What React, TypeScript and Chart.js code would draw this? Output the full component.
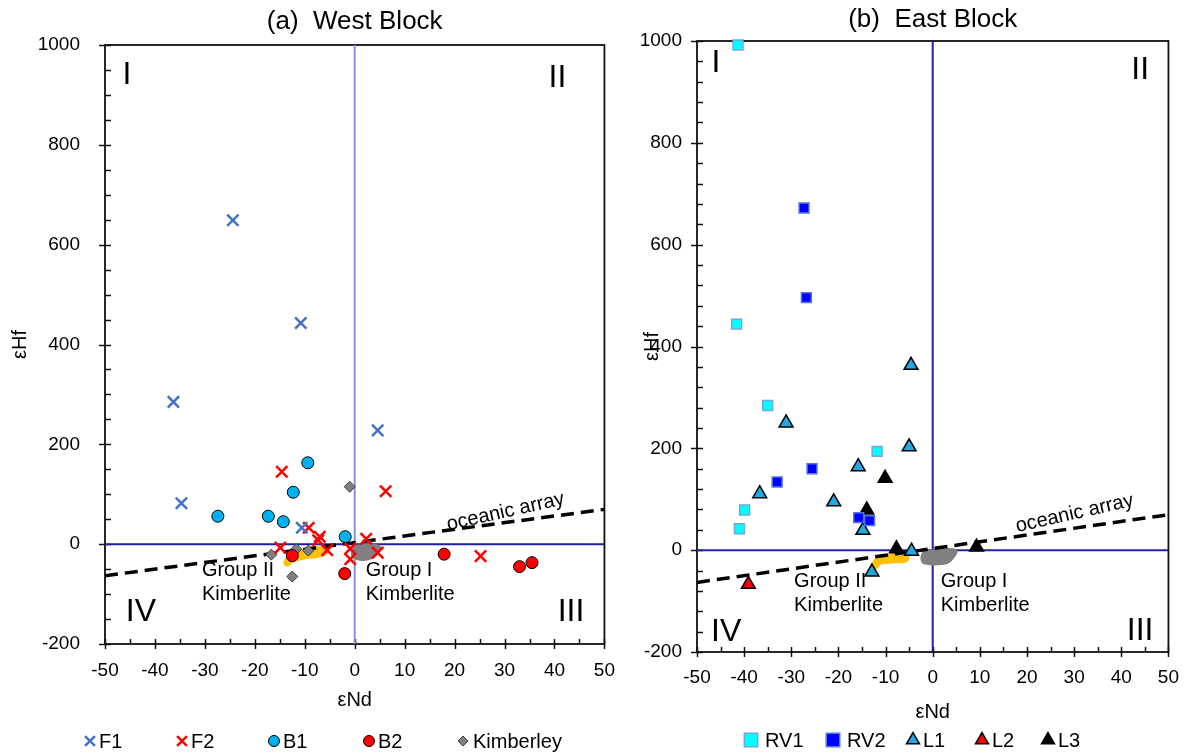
import React, { useEffect, useRef } from "react";
import { Chart, registerables } from "chart.js";
import { drawPoint } from "chart.js/helpers";

Chart.register(...registerables);

const FONT = "'Liberation Sans', Arial, Helvetica, sans-serif";
Chart.defaults.font.family = FONT;
Chart.defaults.color = "#000";

// ---------------- shared axes ----------------
const ndMin = -50;
const ndMax = 50;
const hfMin = -200;
const hfMax = 1000;
const ndStep = 10;
const hfStep = 200;

// oceanic array  (εHf = 1.33 εNd + 3.19)
const oceanicNd = [-50, 50];
const oceanicHf = [-63.3, 69.7];

// quadrant dividers
const dividerVNd = [0, 0];
const dividerVHf = [-200, 1000];
const dividerHNd = [-50, 50];
const dividerHHf = [0, 0];

// ---------------- (a) West Block ----------------
const westF1Nd = [-24.4, -10.8, -36.3, 4.6, -34.7, -10.6];
const westF1Hf = [649, 443, 285, 228, 82, 33];
const westF2Nd = [-14.6, 6.2, -9.2, -7.0, -7.3, -14.9, -5.5, -0.9, -0.9, 2.3, 4.6, 25.2];
const westF2Hf = [145, 106, 33, 15, 8, -7, -12, -9, -30, 11, -17, -24];
const westB1Nd = [-9.4, -12.3, -27.4, -17.3, -14.3, -1.9];
const westB1Hf = [163, 104, 56, 56, 45, 15];
const westB2Nd = [-12.5, -2.0, 17.9, 33.0, 35.5];
const westB2Hf = [-23, -59, -20, -45, -37];
const westKimNd = [-1.0, -16.7, -11.7, -9.3, -12.5];
const westKimHf = [115, -21, -10, -13, -65];
const westGroupIINd = [-14.1, -13.1, -10.2, -6.5, -5.5, -7.2, -9.8, -12.2, -13.5, -14.1];
const westGroupIIHf = [-39, -22, -12, -7, -15, -24, -27, -33, -42, -39];
const westGroupINd = [0.1, 4.8, 4.4, 2.8, 0.5, -0.5, 0.1];
const westGroupIHf = [-4, -4, -19, -29, -29, -19, -4];

// ---------------- (b) East Block ----------------
const eastRV1Nd = [-41.3, -41.6, -35.0, -11.8, -39.9, -41.0];
const eastRV1Hf = [992, 444, 284, 194, 79, 42];
const eastRV2Nd = [-27.3, -26.8, -25.6, -33.0, -15.7, -13.4];
const eastRV2Hf = [672, 496, 160, 134, 64, 58];
const eastL1Nd = [-4.6, -31.1, -5.0, -15.8, -36.7, -21.0, -14.8, -4.5, -12.9];
const eastL1Hf = [363, 250, 203, 164, 111, 95, 39, -2, -43];
const eastL2Nd = [-39.1];
const eastL2Hf = [-67];
const eastL3Nd = [-10.1, -14.0, -7.7, 9.3];
const eastL3Hf = [141, 79, 3, 6];
const eastGroupIINd = [-13.1, -11.9, -9.1, -5.6, -5.5, -8.4, -11.2, -12.2, -13.1];
const eastGroupIIHf = [-34, -18, -10, -8, -20, -23, -26, -36, -34];
const eastGroupINd = [-1.8, 4.8, 4.1, 2.7, -1.8, -2.3, -1.8];
const eastGroupIHf = [-3, 0, -16, -25, -25, -14, -3];

// ---------------- types ----------------
type Marker = {
  pointStyle: string;
  radius: number;
  fill: string;
  stroke: string;
  borderWidth: number;
  legendRadius: number;
  legendX: number;
  legendTextDx: number;
};
type Series = { label: string; nd: number[]; hf: number[]; marker: Marker };
type Region = { nd: number[]; hf: number[]; color: string };
type Label = { text: string; nd: number; hf: number; size: number; align: CanvasTextAlign; rotate?: number };
type Panel = {
  title: string;
  titleY: number;
  width: number;
  left: number;
  padding: { top: number; right: number; bottom: number; left: number };
  yAxisWidth: number;
  xAxisHeight: number;
  xTickPad: number;
  yTickPad: number;
  yTitlePad: number;
  yMinorStep: number;
  vLineColor: string;
  hLineColor: string;
  series: Series[];
  regions: Region[];
  labels: Label[];
  legendY: number;
};

const pts = (xs: number[], ys: number[]) => xs.map((x, i) => ({ x, y: ys[i] }));

const westPanel: Panel = {
  title: "(a)  West Block",
  titleY: 22,
  width: 630,
  left: 0,
  padding: { top: 45, right: 23, bottom: 39, left: 0 },
  yAxisWidth: 105,
  xAxisHeight: 70,
  xTickPad: 15,
  yTickPad: 25,
  yTitlePad: 8,
  yMinorStep: 50,
  vLineColor: "#8C8FDF",
  hLineColor: "#1F1FA8",
  series: [
    { label: "F1", nd: westF1Nd, hf: westF1Hf, marker: { pointStyle: "crossRot", radius: 8, fill: "#4472C4", stroke: "#4472C4", borderWidth: 2.5, legendRadius: 7, legendX: 90, legendTextDx: 9 } },
    { label: "F2", nd: westF2Nd, hf: westF2Hf, marker: { pointStyle: "crossRot", radius: 8, fill: "#FF0000", stroke: "#FF0000", borderWidth: 2.5, legendRadius: 7, legendX: 182, legendTextDx: 9 } },
    { label: "B1", nd: westB1Nd, hf: westB1Hf, marker: { pointStyle: "circle", radius: 6, fill: "#00B0F0", stroke: "#000000", borderWidth: 1, legendRadius: 5.5, legendX: 274, legendTextDx: 9 } },
    { label: "B2", nd: westB2Nd, hf: westB2Hf, marker: { pointStyle: "circle", radius: 6, fill: "#FF0000", stroke: "#000000", borderWidth: 1, legendRadius: 5.5, legendX: 369, legendTextDx: 9 } },
    { label: "Kimberley", nd: westKimNd, hf: westKimHf, marker: { pointStyle: "rectRot", radius: 5.5, fill: "#808080", stroke: "#404040", borderWidth: 1, legendRadius: 5, legendX: 463, legendTextDx: 10 } },
  ],
  regions: [
    { nd: westGroupIINd, hf: westGroupIIHf, color: "#FFC000" },
    { nd: westGroupINd, hf: westGroupIHf, color: "#808080" },
  ],
  labels: [
    { text: "I", nd: -45.6, hf: 940, size: 32, align: "center" },
    { text: "II", nd: 40.6, hf: 934, size: 32, align: "center" },
    { text: "IV", nd: -42.8, hf: -137, size: 32, align: "center" },
    { text: "III", nd: 43.3, hf: -137, size: 32, align: "center" },
    { text: "Group II", nd: -30.6, hf: -53, size: 20, align: "left" },
    { text: "Kimberlite", nd: -30.6, hf: -100, size: 20, align: "left" },
    { text: "Group I", nd: 2.2, hf: -53, size: 20, align: "left" },
    { text: "Kimberlite", nd: 2.2, hf: -100, size: 20, align: "left" },
    { text: "oceanic array", nd: 30.2, hf: 64.7, size: 20, align: "center", rotate: -12.7 },
  ],
  legendY: 741,
};

const eastPanel: Panel = {
  title: "(b)  East Block",
  titleY: 20,
  width: 563,
  left: 630,
  padding: { top: 41, right: 16, bottom: 27, left: 0 },
  yAxisWidth: 67,
  xAxisHeight: 74,
  xTickPad: 14,
  yTickPad: 15,
  yTitlePad: 10,
  yMinorStep: 40,
  vLineColor: "#2222A8",
  hLineColor: "#2222A8",
  series: [
    { label: "RV1", nd: eastRV1Nd, hf: eastRV1Hf, marker: { pointStyle: "rect", radius: 7, fill: "#00FFFF", stroke: "#6FA8DC", borderWidth: 1.5, legendRadius: 9.5, legendX: 121, legendTextDx: 14 } },
    { label: "RV2", nd: eastRV2Nd, hf: eastRV2Hf, marker: { pointStyle: "rect", radius: 7, fill: "#0000FF", stroke: "#5577DD", borderWidth: 1.5, legendRadius: 9.5, legendX: 203, legendTextDx: 14 } },
    { label: "L1", nd: eastL1Nd, hf: eastL1Hf, marker: { pointStyle: "triangle", radius: 8, fill: "#22A7E0", stroke: "#000000", borderWidth: 1.5, legendRadius: 7.5, legendX: 283, legendTextDx: 10 } },
    { label: "L2", nd: eastL2Nd, hf: eastL2Hf, marker: { pointStyle: "triangle", radius: 8, fill: "#FF0000", stroke: "#000000", borderWidth: 1.5, legendRadius: 7.5, legendX: 352, legendTextDx: 10 } },
    { label: "L3", nd: eastL3Nd, hf: eastL3Hf, marker: { pointStyle: "triangle", radius: 8, fill: "#000000", stroke: "#000000", borderWidth: 1.5, legendRadius: 7.5, legendX: 418, legendTextDx: 10 } },
  ],
  regions: [
    { nd: eastGroupIINd, hf: eastGroupIIHf, color: "#FFC000" },
    { nd: eastGroupINd, hf: eastGroupIHf, color: "#808080" },
  ],
  labels: [
    { text: "I", nd: -46, hf: 956, size: 32, align: "center" },
    { text: "II", nd: 44, hf: 943, size: 32, align: "center" },
    { text: "IV", nd: -43.8, hf: -162, size: 32, align: "center" },
    { text: "III", nd: 44, hf: -160, size: 32, align: "center" },
    { text: "Group II", nd: -29.4, hf: -62, size: 20, align: "left" },
    { text: "Kimberlite", nd: -29.4, hf: -108, size: 20, align: "left" },
    { text: "Group I", nd: 1.7, hf: -62, size: 20, align: "left" },
    { text: "Kimberlite", nd: 1.7, hf: -108, size: 20, align: "left" },
    { text: "oceanic array", nd: 30.1, hf: 72, size: 20, align: "center", rotate: -12.7 },
  ],
  legendY: 740,
};

function PanelChart({ spec }: { spec: Panel }) {
  const ref = useRef<HTMLCanvasElement | null>(null);

  useEffect(() => {
    const canvas = ref.current;
    if (!canvas) return;

    const markerSets = spec.series.map((s) => ({
      label: s.label,
      data: pts(s.nd, s.hf),
      pointStyle: s.marker.pointStyle as any,
      pointRadius: s.marker.radius,
      pointBackgroundColor: s.marker.fill,
      pointBorderColor: s.marker.stroke,
      pointBorderWidth: s.marker.borderWidth,
      backgroundColor: s.marker.fill,
      borderColor: s.marker.stroke,
      showLine: false,
      clip: false as any,
      order: 0,
    }));

    const regionSets = spec.regions.map((r, i) => ({
      label: "_region" + i,
      data: pts(r.nd, r.hf),
      showLine: true,
      tension: 0.4,
      borderColor: r.color,
      backgroundColor: r.color,
      borderWidth: 3,
      pointRadius: 0,
      fill: "shape" as any,
      order: 20,
    }));

    const lineSets = [
      {
        label: "_vline",
        data: pts(dividerVNd, dividerVHf),
        showLine: true,
        borderColor: spec.vLineColor,
        borderWidth: 2,
        pointRadius: 0,
        order: 30,
      },
      {
        label: "_hline",
        data: pts(dividerHNd, dividerHHf),
        showLine: true,
        borderColor: spec.hLineColor,
        borderWidth: 2,
        pointRadius: 0,
        order: 30,
      },
      {
        label: "_oceanic",
        data: pts(oceanicNd, oceanicHf),
        showLine: true,
        borderColor: "#000000",
        borderWidth: 3.5,
        borderDash: [13, 7],
        pointRadius: 0,
        order: 10,
      },
    ];

    const decor = {
      id: "decor",
      beforeDatasetsDraw(chart: any) {
        const { ctx, chartArea: ca, scales } = chart;
        const xs = scales.x;
        const ys = scales.y;
        ctx.save();
        ctx.strokeStyle = "#111";
        ctx.lineWidth = 1.8;
        ctx.strokeRect(ca.left, ca.top, ca.right - ca.left, ca.bottom - ca.top);
        ctx.lineWidth = 1.5;
        ctx.beginPath();
        for (let v = ndMin; v <= ndMax; v += 5) {
          const px = Math.round(xs.getPixelForValue(v)) + 0.5;
          const major = v % ndStep === 0;
          ctx.moveTo(px, ca.bottom - 5);
          ctx.lineTo(px, major ? ca.bottom + 5 : ca.bottom);
        }
        for (let v = hfMin; v <= hfMax; v += spec.yMinorStep) {
          const py = Math.round(ys.getPixelForValue(v)) + 0.5;
          const major = v % hfStep === 0;
          ctx.moveTo(major ? ca.left - 6 : ca.left, py);
          ctx.lineTo(ca.left + 6, py);
        }
        ctx.stroke();
        ctx.restore();
      },
      afterDraw(chart: any) {
        const { ctx, chartArea: ca, scales } = chart;
        const xs = scales.x;
        const ys = scales.y;
        ctx.save();
        ctx.fillStyle = "#000";
        // title
        ctx.font = `26px ${FONT}`;
        ctx.textAlign = "center";
        ctx.textBaseline = "middle";
        ctx.fillText(spec.title, (ca.left + ca.right) / 2, spec.titleY);
        // annotations
        for (const l of spec.labels) {
          const px = xs.getPixelForValue(l.nd);
          const py = ys.getPixelForValue(l.hf);
          ctx.save();
          ctx.font = `${l.size}px ${FONT}`;
          ctx.textAlign = l.align;
          ctx.textBaseline = "middle";
          ctx.translate(px, py);
          if (l.rotate) ctx.rotate((l.rotate * Math.PI) / 180);
          ctx.fillText(l.text, 0, 0);
          ctx.restore();
        }
        // legend
        ctx.font = `20px ${FONT}`;
        ctx.textAlign = "left";
        ctx.textBaseline = "middle";
        for (const s of spec.series) {
          const m = s.marker;
          ctx.save();
          ctx.fillStyle = m.fill;
          ctx.strokeStyle = m.stroke;
          ctx.lineWidth = m.borderWidth;
          drawPoint(ctx, { pointStyle: m.pointStyle as any, radius: m.legendRadius, rotation: 0, borderWidth: m.borderWidth }, m.legendX, spec.legendY);
          ctx.restore();
          ctx.fillStyle = "#000";
          ctx.fillText(s.label, m.legendX + m.legendTextDx, spec.legendY + 1);
        }
        ctx.restore();
      },
    };

    const chart = new Chart(canvas, {
      type: "scatter",
      data: { datasets: [...markerSets, ...lineSets, ...regionSets] as any },
      options: {
        responsive: false,
        animation: false,
        events: [],
        layout: { padding: spec.padding },
        plugins: {
          legend: { display: false },
          tooltip: { enabled: false },
          title: { display: false },
        },
        scales: {
          x: {
            type: "linear",
            min: ndMin,
            max: ndMax,
            ticks: {
              stepSize: ndStep,
              autoSkip: false,
              maxRotation: 0,
              padding: spec.xTickPad,
              font: { size: 19 },
              color: "#000",
              callback: (v: any) => String(v),
            },
            grid: { display: false, drawTicks: false },
            border: { display: false },
            title: { display: true, text: "εNd", font: { size: 20 }, color: "#000", padding: { top: 0, bottom: 2 } },
            afterFit: (s: any) => {
              s.height = spec.xAxisHeight;
            },
          },
          y: {
            type: "linear",
            min: hfMin,
            max: hfMax,
            ticks: {
              stepSize: hfStep,
              autoSkip: false,
              padding: spec.yTickPad,
              font: { size: 19 },
              color: "#000",
              callback: (v: any) => String(v),
            },
            grid: { display: false, drawTicks: false },
            border: { display: false },
            title: { display: true, text: "εHf", font: { size: 20 }, color: "#000", padding: { top: spec.yTitlePad, bottom: 0 } },
            afterFit: (s: any) => {
              s.width = spec.yAxisWidth;
            },
          },
        },
      },
      plugins: [decor],
    });

    return () => chart.destroy();
  }, [spec]);

  return (
    <canvas
      ref={ref}
      width={spec.width}
      height={753}
      style={{ position: "absolute", left: spec.left, top: 0, width: spec.width, height: 753, display: "block" }}
    />
  );
}

export default function App() {
  return (
    <div style={{ position: "fixed", left: 0, top: 0, width: 1193, height: 753, background: "#fff", overflow: "hidden" }}>
      <PanelChart spec={westPanel} />
      <PanelChart spec={eastPanel} />
    </div>
  );
}
